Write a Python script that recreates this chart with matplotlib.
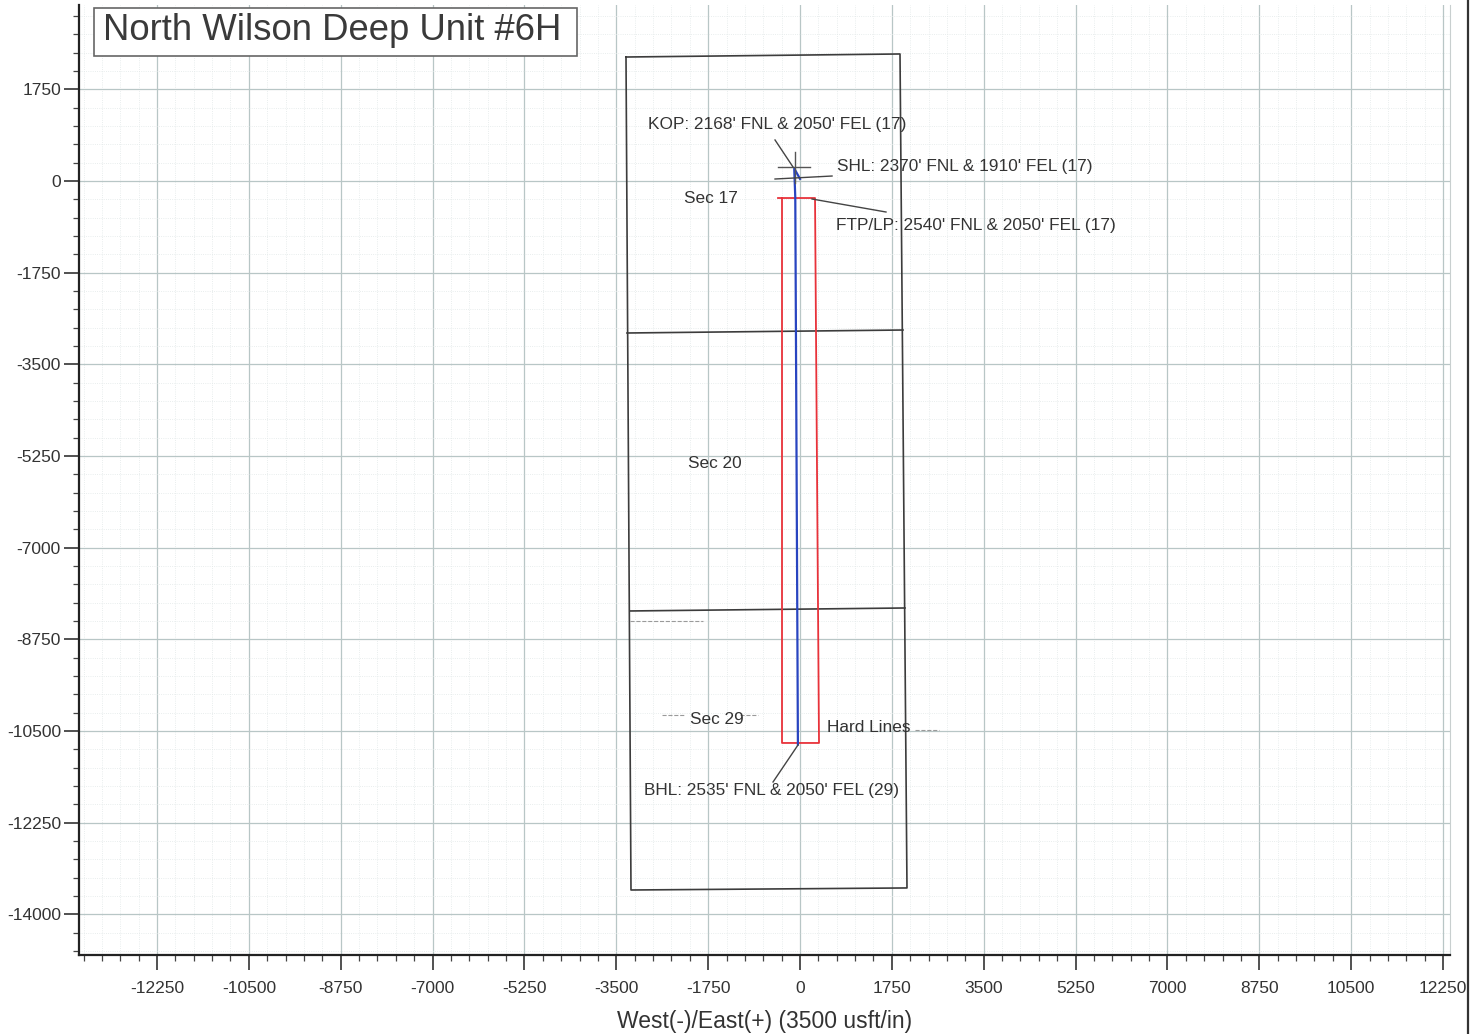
import matplotlib.pyplot as plt
from matplotlib.patches import Rectangle
from matplotlib.lines import Line2D
import numpy as np

plt.rcParams['font.family'] = ['Liberation Sans', 'DejaVu Sans']
plt.rcParams['axes.unicode_minus'] = False

# -------- data (usft, West(-)/East(+) and South(-)/North(+)) --------
title = "North Wilson Deep Unit #6H"

# section outline (Sec 17 / 20 / 29)
sec_ew = [-3315, 1905, 2038, -3220, -3315]
sec_ns = [2367, 2425, -13497, -13536, 2367]
sec_line1_ew = [-3296, 1962]
sec_line1_ns = [-2902, -2845]
sec_line2_ew = [-3239, 2000]
sec_line2_ns = [-8209, -8152]

# hard lines
hard_ew = [-419, 286, 362, -324, -343, -343]
hard_ns = [-325, -325, -10729, -10729, -10729, -325]

# well path: SHL -> KOP -> FTP -> BHL
well_ew = [0, -110, -90, -40]
well_ns = [40, 240, -320, -10760]

# labels: text, x, y
labels = [
    ("KOP: 2168' FNL & 2050' FEL (17)", -2896, 1088),
    ("SHL: 2370' FNL & 1910' FEL (17)", 705, 286),
    ("Sec 17", -2210, -325),
    ("FTP/LP: 2540' FNL & 2050' FEL (17)", 686, -859),
    ("Sec 20", -2130, -5403),
    ("Sec 29", -2090, -10290),
    ("Hard Lines", 514, -10443),
    ("BHL: 2535' FNL & 2050' FEL (29)", -2972, -11627),
]

# leader lines: (x0, y0, x1, y1)
leaders = [
    (-476, 783, -133, 267),     # KOP
    (-476, 38, 610, 95),        # SHL
    (229, -344, 1638, -592),    # FTP/LP
    (-38, -10767, -514, -11474),  # BHL
]

xticks = np.arange(-12250, 12251, 1750)
yticks = np.arange(-14000, 1751, 1750)

# -------- figure --------
fig = plt.figure(figsize=(14.82, 10.34), dpi=100)
ax = fig.add_axes([79 / 1482, 1 - 955 / 1034, 1371 / 1482, 950 / 1034])
ax.set_xlim(-13736, 12383)
ax.set_ylim(-14777, 3360)

ax.set_xticks(xticks)
ax.set_yticks(yticks)
ax.set_xticks(np.arange(-13650, 12400, 350), minor=True)
ax.set_yticks(np.arange(-14700, 3360, 350), minor=True)
ax.grid(which='major', color='#b8c6c6', linewidth=0.9)
ax.grid(which='minor', color='#e2e8e8', linewidth=0.6, linestyle=':')
ax.set_axisbelow(True)

ax.tick_params(which='major', direction='out', length=11, width=1.2,
               labelsize=12.5, labelcolor='#333333', color='#333333')
ax.tick_params(axis='y', which='major', pad=2)
ax.tick_params(axis='x', which='major', pad=8)
ax.tick_params(which='minor', direction='out', length=4, width=0.9, color='#444444')

ax.spines['top'].set_visible(False)
ax.spines['right'].set_color('#c8cfcf')
ax.spines['right'].set_linewidth(0.8)
for s in ['left', 'bottom']:
    ax.spines[s].set_linewidth(1.6)
    ax.spines[s].set_color('#222222')

ax.set_xlabel("West(-)/East(+) (3500 usft/in)", fontsize=16.5, color='#333333', labelpad=10)

# section lines
ax.plot(sec_ew, sec_ns, color='#3c3c3c', linewidth=1.2)
ax.plot(sec_line1_ew, sec_line1_ns, color='#3c3c3c', linewidth=1.2)
ax.plot(sec_line2_ew, sec_line2_ns, color='#3c3c3c', linewidth=1.2)
ax.plot([-3239, -1848], [-8400, -8400], color='#9a9a9a', linewidth=0.8, linestyle='--')
ax.plot([-2620, -2200], [-10200, -10200], color='#9a9a9a', linewidth=0.8, linestyle='--')
ax.plot([-1150, -800], [-10200, -10200], color='#9a9a9a', linewidth=0.8, linestyle='--')
ax.plot([2200, 2650], [-10480, -10480], color='#9a9a9a', linewidth=0.8, linestyle='--')

# hard lines
ax.plot(hard_ew, hard_ns, color='#e8323a', linewidth=1.3)

# well path
ax.plot(well_ew, well_ns, color='#2844c0', linewidth=1.6)

# KOP / SHL cross marker
ax.plot([-419, 190], [267, 267], color='#555555', linewidth=1.0)
ax.plot([-95, -95], [553, -38], color='#555555', linewidth=1.0)

for x0, y0, x1, y1 in leaders:
    ax.plot([x0, x1], [y0, y1], color='#444444', linewidth=1.0)

for txt, x, y in labels:
    ax.text(x, y, txt, fontsize=12.4, color='#333333', ha='left', va='center')

# title box
fig.add_artist(Rectangle((94 / 1482, 1 - 56 / 1034), 483 / 1482, 48 / 1034,
                         transform=fig.transFigure, facecolor='white',
                         edgecolor='#666666', linewidth=1.2, zorder=5))
fig.text(103 / 1482, 1 - 31 / 1034, title, fontsize=26.3, color='#3a3a3a',
         ha='left', va='center', zorder=6)

# scan border on the right
fig.add_artist(Line2D([1468 / 1482, 1468 / 1482], [0, 1], transform=fig.transFigure,
                      color='#333333', linewidth=1.6))

fig.savefig('out.png', dpi=100, facecolor='white')
